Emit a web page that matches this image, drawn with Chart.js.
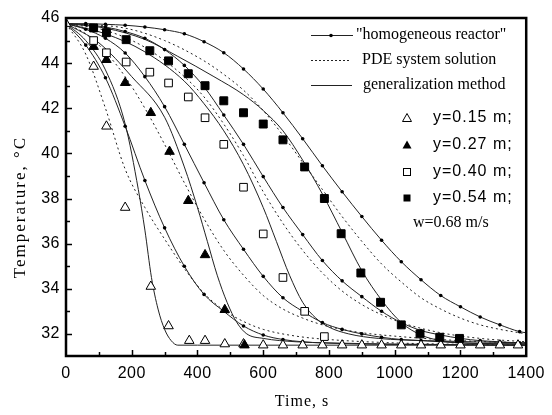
<!DOCTYPE html>
<html>
<head>
<meta charset="utf-8">
<script src="https://cdn.jsdelivr.net/npm/chart.js@4.4.1/dist/chart.umd.min.js"></script>
<style>
  html, body { margin: 0; padding: 0; background: #fff; }
</style>
</head>
<body>
<canvas id="coolingChart" width="552" height="415"></canvas>
<script>
// axis ticks
const xTicks = [0, 200, 400, 600, 800, 1000, 1200, 1400];
const yTicks = [32, 34, 36, 38, 40, 42, 44, 46];

// "homogeneous reactor" model, one point every 60 s (plus the right edge)
const hTime = [0, 60, 120, 180, 240, 300, 360, 420, 480, 540, 600, 660, 720, 780, 840, 900, 960, 1020, 1080, 1140, 1200, 1260, 1320, 1380, 1400];
const hom015 = [45.75, 44.8, 43.35, 41.2, 38.8, 36.7, 35.0, 33.75, 33.0, 32.35, 31.95, 31.75, 31.65, 31.6, 31.57, 31.55, 31.54, 31.53, 31.52, 31.52, 31.51, 31.51, 31.5, 31.5, 31.5];
const hom027 = [45.75, 45.5, 45.1, 44.45, 43.4, 42.07, 40.4, 38.7, 37.06, 35.75, 34.55, 33.6, 33.0, 32.5, 32.2, 32.0, 31.85, 31.75, 31.7, 31.65, 31.6, 31.58, 31.56, 31.55, 31.55];
const hom040 = [45.75, 45.7, 45.6, 45.4, 45.1, 44.6, 43.9, 42.95, 41.7, 40.4, 38.97, 37.6, 36.4, 35.25, 34.35, 33.65, 33.0, 32.5, 32.15, 31.95, 31.8, 31.7, 31.65, 31.6, 31.6];
const hom054 = [45.75, 45.75, 45.72, 45.68, 45.6, 45.48, 45.3, 44.95, 44.46, 43.74, 42.85, 41.8, 40.65, 39.45, 38.3, 37.2, 36.15, 35.2, 34.4, 33.7, 33.2, 32.75, 32.4, 32.1, 32.05];

// PDE system solution
const pde015T = [0, 60, 120, 180, 240, 300, 360, 420, 480, 540, 600, 700, 800, 1000, 1400];
const pde015 = [45.75, 44.4, 42.0, 39.3, 37.6, 36.2, 34.9, 33.8, 33.05, 32.55, 32.2, 31.9, 31.75, 31.6, 31.5];
const pde027T = [0, 60, 120, 180, 240, 300, 360, 420, 480, 540, 600, 660, 720, 780, 840, 900, 1000, 1200, 1400];
const pde027 = [45.75, 45.3, 44.5, 43.4, 42.0, 40.4, 38.7, 37.1, 35.7, 34.6, 33.7, 33.1, 32.7, 32.4, 32.2, 32.05, 31.9, 31.7, 31.6];
const pde040T = [0, 120, 240, 360, 420, 480, 540, 600, 660, 720, 780, 840, 900, 960, 1020, 1140, 1260, 1400];
const pde040 = [45.75, 45.45, 44.7, 43.4, 42.5, 41.3, 39.9, 38.3, 36.9, 35.7, 34.7, 33.9, 33.3, 32.85, 32.5, 32.05, 31.8, 31.65];
const pde054T = [0, 180, 300, 420, 480, 540, 600, 660, 720, 780, 840, 900, 960, 1020, 1080, 1140, 1200, 1260, 1320, 1400];
const pde054 = [45.75, 45.55, 45.0, 44.1, 43.5, 42.8, 41.9, 40.8, 39.6, 38.4, 37.2, 36.1, 35.1, 34.3, 33.6, 33.1, 32.7, 32.4, 32.2, 32.0];

// generalization method
const gen015T = [0, 60, 120, 180, 220, 240, 260, 280, 300, 320, 340, 400, 1400];
const gen015 = [45.75, 45.0, 43.7, 41.3, 38.4, 36.6, 34.5, 33.1, 32.2, 31.7, 31.5, 31.5, 31.5];
const gen027T = [0, 100, 200, 300, 360, 400, 430, 460, 490, 520, 550, 600, 700, 800, 1000, 1400];
const gen027 = [45.75, 44.9, 43.4, 41.6, 39.4, 37.6, 36.1, 34.6, 33.4, 32.5, 32.0, 31.8, 31.65, 31.6, 31.55, 31.5];
const gen040T = [0, 120, 240, 360, 420, 480, 540, 600, 640, 680, 720, 760, 800, 860, 950, 1100, 1400];
const gen040 = [45.75, 45.3, 44.5, 43.2, 42.2, 41.0, 39.5, 37.6, 36.1, 34.6, 33.4, 32.7, 32.3, 32.0, 31.8, 31.7, 31.6];
const gen054T = [0, 120, 240, 340, 450, 540, 600, 660, 720, 780, 840, 900, 960, 1020, 1080, 1140, 1200, 1400];
const gen054 = [45.75, 45.55, 45.05, 44.3, 43.4, 42.6, 41.9, 41.0, 39.7, 38.2, 36.5, 34.8, 33.5, 32.5, 31.95, 31.7, 31.6, 31.55];

// experiment
const exp015T = [0, 84, 123, 180, 258, 312, 375, 423, 483, 540, 600, 660, 720, 780, 840, 900, 960, 1020, 1080, 1140, 1200, 1260, 1320, 1375];
const exp015 = [45.75, 43.85, 41.2, 37.6, 34.1, 32.35, 31.7, 31.7, 31.55, 31.55, 31.5, 31.5, 31.5, 31.5, 31.5, 31.5, 31.5, 31.5, 31.5, 31.5, 31.5, 31.5, 31.5, 31.5];
const exp027T = [84, 123, 180, 258, 315, 372, 423, 483, 543];
const exp027 = [44.73, 44.15, 43.13, 41.8, 40.08, 37.9, 35.5, 33.07, 31.5];
const exp040T = [84, 123, 183, 255, 312, 372, 423, 480, 540, 600, 660, 726, 786];
const exp040 = [45.0, 44.46, 44.05, 43.6, 43.12, 42.5, 41.58, 40.4, 38.5, 36.43, 34.5, 33.0, 31.88];
const exp054T = [84, 123, 183, 255, 312, 372, 423, 480, 540, 600, 660, 726, 786, 837, 897, 957, 1020, 1077, 1137, 1197];
const exp054 = [45.56, 45.35, 45.04, 44.55, 44.1, 43.53, 43.0, 42.33, 41.8, 41.3, 40.6, 39.4, 38.0, 36.44, 34.7, 33.4, 32.4, 32.0, 31.85, 31.8];

const yMin = 31.02, yMax = 46;

function pts(xs, ys) {
    return xs.map((x, i) => ({ x: x, y: ys[i] }));
}

function homLine(ys) {
    return {
        data: pts(hTime, ys), showLine: true, borderColor: '#222', borderWidth: 1,
        pointRadius: c => (c.dataIndex === hTime.length - 1 ? 0 : 1.8),
        pointBackgroundColor: '#000', pointBorderWidth: 0,
        cubicInterpolationMode: 'monotone', order: 2
    };
}
function pdeLine(xs, ys) {
    return {
        data: pts(xs, ys), showLine: true, borderColor: '#222', borderWidth: 1,
        borderDash: [2, 3], pointRadius: 0, cubicInterpolationMode: 'monotone', order: 3
    };
}
function genLine(xs, ys) {
    return {
        data: pts(xs, ys), showLine: true, borderColor: '#222', borderWidth: 1,
        pointRadius: 0, cubicInterpolationMode: 'monotone', order: 2
    };
}
function marks(xs, ys, style, fill, r) {
    return {
        data: pts(xs, ys), showLine: false, pointStyle: style, pointRadius: r,
        pointBackgroundColor: fill, pointBorderColor: '#000', pointBorderWidth: 1, order: 1
    };
}

const frame = {
    id: 'frame',
    beforeDraw(chart) {
        // slightly spaced tick digits, as in the original figure
        if ('letterSpacing' in chart.ctx) chart.ctx.letterSpacing = '0.5px';
    },
    beforeDatasetsDraw(chart) {
        if ('letterSpacing' in chart.ctx) chart.ctx.letterSpacing = '0px';
    },
    afterDraw(chart) {
        const ctx = chart.ctx, a = chart.chartArea, x = chart.scales.x, y = chart.scales.y;
        const spacing = s => { if ('letterSpacing' in ctx) ctx.letterSpacing = s; };
        ctx.save();
        ctx.strokeStyle = '#000';
        ctx.lineWidth = 2.5;
        ctx.strokeRect(a.left, a.top, a.right - a.left, a.bottom - a.top);

        ctx.lineWidth = 1.5;
        for (let v = 100; v < 1400; v += 100) {
            const px = Math.round(x.getPixelForValue(v)) + 0.5;
            const len = v % 200 === 0 ? 6 : 4;
            ctx.beginPath(); ctx.moveTo(px, a.bottom); ctx.lineTo(px, a.bottom - len); ctx.stroke();
        }
        for (let v = 32; v < 46; v += 1) {
            const py = Math.round(y.getPixelForValue(v)) + 0.5;
            const len = v % 2 === 0 ? 6 : 4;
            ctx.beginPath(); ctx.moveTo(a.left, py); ctx.lineTo(a.left + len, py); ctx.stroke();
        }

        // axis titles
        ctx.fillStyle = '#000';
        ctx.textAlign = 'center';
        ctx.textBaseline = 'middle';
        ctx.font = '16px "Liberation Serif"';
        spacing('1px');
        ctx.fillText('Time, s', 302, 402);
        ctx.save();
        ctx.translate(21, 207);
        ctx.rotate(-Math.PI / 2);
        ctx.font = '17px "Liberation Serif"';
        spacing('2px');
        ctx.fillText('Temperature, \u00B0C', 0, 0);
        ctx.restore();
        spacing('0px');

        // legend
        ctx.textAlign = 'left';
        ctx.font = '16px "Liberation Serif"';
        ctx.lineWidth = 1;
        ctx.strokeStyle = '#222';
        ctx.beginPath(); ctx.moveTo(311, 35.5); ctx.lineTo(353, 35.5); ctx.stroke();
        ctx.beginPath(); ctx.arc(331, 35.5, 1.8, 0, Math.PI * 2); ctx.fill();
        ctx.fillText('"homogeneous reactor"', 356, 35);

        ctx.setLineDash([2, 2]);
        ctx.beginPath(); ctx.moveTo(311, 60.5); ctx.lineTo(350, 60.5); ctx.stroke();
        ctx.setLineDash([]);
        ctx.fillText('PDE system solution', 362, 60);

        ctx.beginPath(); ctx.moveTo(311, 85.5); ctx.lineTo(352, 85.5); ctx.stroke();
        ctx.fillText('generalization method', 363, 85);

        const rows = [118, 145, 172, 198];
        const labels = ['y=0.15 m;', 'y=0.27 m;', 'y=0.40 m;', 'y=0.54 m;'];
        const mx = 407;
        ctx.strokeStyle = '#000';
        ctx.beginPath(); ctx.moveTo(mx, rows[0] - 4.5); ctx.lineTo(mx + 4.5, rows[0] + 3.5); ctx.lineTo(mx - 4.5, rows[0] + 3.5); ctx.closePath(); ctx.stroke();
        ctx.beginPath(); ctx.moveTo(mx, rows[1] - 4.5); ctx.lineTo(mx + 4.5, rows[1] + 3.5); ctx.lineTo(mx - 4.5, rows[1] + 3.5); ctx.closePath(); ctx.fill();
        ctx.strokeRect(mx - 3.5, rows[2] - 3.5, 7, 7);
        ctx.fillRect(mx - 3.5, rows[3] - 3.5, 7, 7);

        ctx.font = '16px "Liberation Sans"';
        spacing('1px');
        labels.forEach((t, i) => ctx.fillText(t, 433, rows[i]));
        spacing('0px');
        ctx.font = '16px "Liberation Serif"';
        ctx.fillText('w=0.68 m/s', 413, 223);
        ctx.restore();
    }
};

new Chart(document.getElementById('coolingChart').getContext('2d'), {
    type: 'scatter',
    data: {
        datasets: [
            homLine(hom015), homLine(hom027), homLine(hom040), homLine(hom054),
            pdeLine(pde015T, pde015), pdeLine(pde027T, pde027), pdeLine(pde040T, pde040), pdeLine(pde054T, pde054),
            genLine(gen015T, gen015), genLine(gen027T, gen027), genLine(gen040T, gen040), genLine(gen054T, gen054),
            marks(exp054T, exp054, 'rect', '#000', 5.6),
            marks(exp040T, exp040, 'rect', '#fff', 5.4),
            marks(exp027T, exp027, 'triangle', '#000', 5.5),
            marks(exp015T, exp015, 'triangle', '#fff', 5.5)
        ]
    },
    options: {
        responsive: false,
        animation: false,
        layout: { padding: { top: 18, right: 20, left: 0, bottom: 0 } },
        plugins: { legend: { display: false }, tooltip: { enabled: false } },
        scales: {
            x: {
                type: 'linear', min: 0, max: 1400,
                afterFit: s => { s.height = 59; },
                afterBuildTicks: s => { s.ticks = xTicks.map(v => ({ value: v })); },
                grid: { display: false, drawTicks: false },
                border: { display: false },
                ticks: { autoSkip: false, maxRotation: 0, padding: 8, color: '#000',
                         font: { family: 'Liberation Sans', size: 16 }, callback: v => String(v) }
            },
            y: {
                type: 'linear', min: yMin, max: yMax,
                afterFit: s => { s.width = 66; },
                afterBuildTicks: s => { s.ticks = yTicks.map(v => ({ value: v })); },
                grid: { display: false, drawTicks: false },
                border: { display: false },
                ticks: { padding: 6, color: '#000', font: { family: 'Liberation Sans', size: 16 },
                         callback: v => String(v) }
            }
        }
    },
    plugins: [frame]
});
</script>
</body>
</html>
